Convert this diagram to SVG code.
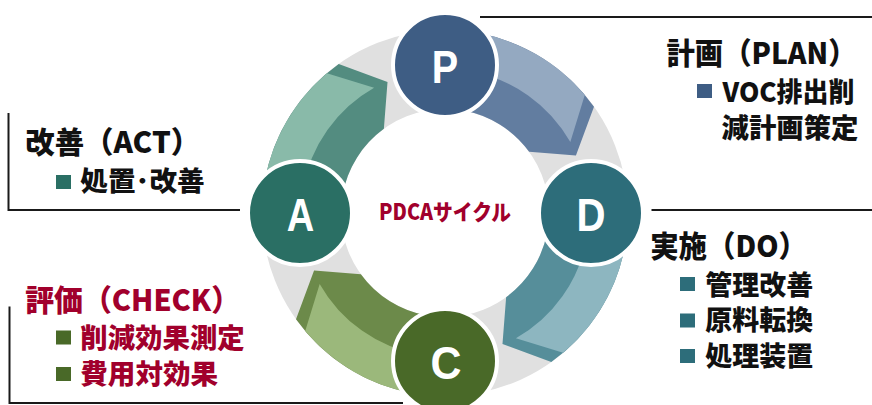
<svg xmlns="http://www.w3.org/2000/svg" width="872" height="405" viewBox="0 0 872 405">
<style>
.t{font-family:"Noto Sans CJK JP","Noto Sans",sans-serif;font-weight:900}
.ttl{font-size:30px}
.itm{font-size:27px}
.blk{fill:#111}
.red{fill:#a1002c}
.ltr{font-family:"Liberation Sans",Arial,sans-serif;font-weight:bold;font-size:46px;fill:#fff;text-anchor:middle}
.ln{stroke:#1a1a1a;stroke-width:2;fill:none}
.node{stroke:#fff;stroke-width:4}
</style>
<defs>
<path id="dark" d="M 476.78 32.78 A 183 183 0 0 1 593.98 106.73 L 575.94 155.52 L 529.14 151.87 A 104 104 0 0 0 463.06 110.58 Z"/>
<path id="light" d="M 476.78 32.78 A 183 183 0 0 1 584.78 94.88 L 570.33 142.09 A 144 144 0 0 0 470.01 71.19 Z"/>
</defs>
<rect width="872" height="405" fill="#fff"/>
<circle id="ring" cx="445" cy="213" r="143.5" fill="none" stroke="#e0e0e0" stroke-width="79"/>
<g id="connectors">
<g id="arrow-PD"><use href="#dark" fill="#627da0"/><use href="#light" fill="#94a9c1"/></g>
<g id="arrow-DC" transform="rotate(90 445 213)"><use href="#dark" fill="#568e9a"/><use href="#light" fill="#8db6c0"/></g>
<g id="arrow-CA" transform="rotate(180 445 213)"><use href="#dark" fill="#6c8a4a"/><use href="#light" fill="#9bb87b"/></g>
<g id="arrow-AP" transform="rotate(270 445 213)"><use href="#dark" fill="#538c80"/><use href="#light" fill="#89baa9"/></g>
</g>
<g id="node-P"><circle class="node" cx="445" cy="65" r="52" fill="#3e5d84"/><text class="ltr" x="445" y="82.5" textLength="26.4" lengthAdjust="spacingAndGlyphs">P</text></g>
<g id="node-D"><circle class="node" cx="591" cy="213" r="52" fill="#2d6d7a"/><text class="ltr" x="591" y="231" textLength="29" lengthAdjust="spacingAndGlyphs">D</text></g>
<g id="node-C"><circle class="node" cx="445" cy="361" r="52" fill="#496928"/><text class="ltr" x="446" y="379" textLength="31" lengthAdjust="spacingAndGlyphs">C</text></g>
<g id="node-A"><circle class="node" cx="300" cy="213" r="52" fill="#2a6f64"/><text class="ltr" x="300.5" y="231" textLength="27.5" lengthAdjust="spacingAndGlyphs">A</text></g>
<g id="center-label"><text class="t red" x="445" y="220" font-size="22" text-anchor="middle" textLength="132" lengthAdjust="spacingAndGlyphs">PDCAサイクル</text></g>
<g id="label-plan">
<line class="ln" x1="480" y1="17" x2="872" y2="17"/>
<text class="t ttl blk" x="666.5" y="63.5" textLength="190" lengthAdjust="spacingAndGlyphs">計画（PLAN）</text>
<rect x="697" y="84" width="15" height="14" fill="#3e5d84"/>
<text class="t itm blk" x="722.5" y="102" textLength="132" lengthAdjust="spacingAndGlyphs">VOC排出削</text>
<text class="t itm blk" x="721.6" y="137.5" textLength="136.8" lengthAdjust="spacingAndGlyphs">減計画策定</text>
</g>
<g id="label-act">
<polyline class="ln" points="8.5,113 8.5,210 240,210"/>
<text class="t ttl blk" x="25.2" y="153.2" textLength="175" lengthAdjust="spacingAndGlyphs">改善（ACT）</text>
<rect x="56" y="175" width="15" height="14" fill="#2a6f64"/>
<text class="t itm blk" x="80.3" y="191.4" textLength="124.4" lengthAdjust="spacingAndGlyphs">処置･改善</text>
</g>
<g id="label-do">
<line class="ln" x1="651.5" y1="210" x2="872" y2="210"/>
<text class="t ttl blk" x="650.2" y="257.3" textLength="156.7" lengthAdjust="spacingAndGlyphs">実施（DO）</text>
<rect x="680" y="277" width="15" height="14" fill="#2d6d7a"/>
<text class="t itm blk" x="705.3" y="294.6" textLength="107.8" lengthAdjust="spacingAndGlyphs">管理改善</text>
<rect x="680" y="313.5" width="15" height="14" fill="#2d6d7a"/>
<text class="t itm blk" x="705.3" y="330.3" textLength="107.8" lengthAdjust="spacingAndGlyphs">原料転換</text>
<rect x="680" y="349" width="15" height="14" fill="#2d6d7a"/>
<text class="t itm blk" x="705.3" y="366.3" textLength="107.8" lengthAdjust="spacingAndGlyphs">処理装置</text>
</g>
<g id="label-check">
<polyline class="ln" points="9.5,306.5 9.5,403 403,403"/>
<text class="t ttl red" x="25.2" y="310.5" textLength="215" lengthAdjust="spacingAndGlyphs">評価（CHECK）</text>
<rect x="56" y="330.5" width="15" height="14" fill="#496928"/>
<text class="t itm red" x="80.3" y="348" textLength="164.4" lengthAdjust="spacingAndGlyphs">削減効果測定</text>
<rect x="56" y="367" width="15" height="14" fill="#496928"/>
<text class="t itm red" x="80.3" y="384" textLength="137.8" lengthAdjust="spacingAndGlyphs">費用対効果</text>
</g>
</svg>
